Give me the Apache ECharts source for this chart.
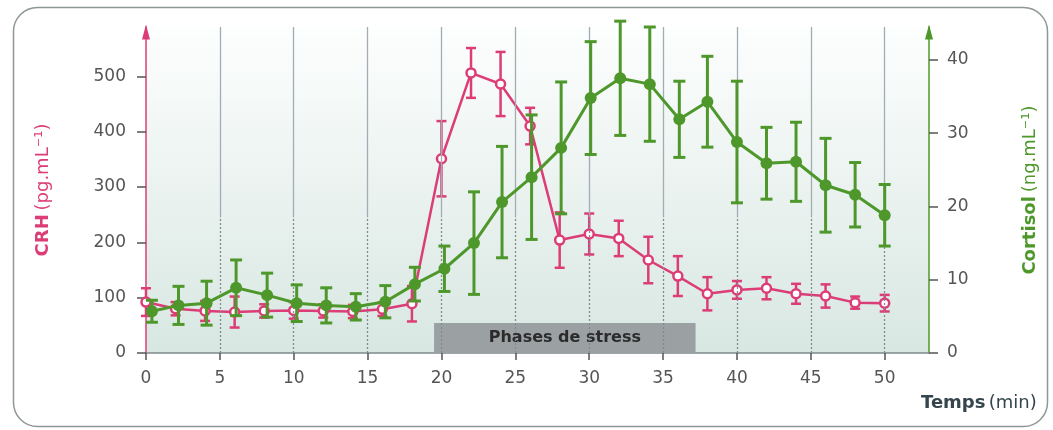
<!DOCTYPE html>
<html><head><meta charset="utf-8">
<script src="https://cdn.jsdelivr.net/npm/echarts@6/dist/echarts.min.js"></script>
<style>html,body{margin:0;padding:0;background:#fff;} #c{width:1053px;height:430px;}</style>
</head><body><div id="c"></div>
<script>
// ---- data ----
const crhTimes = [0, 2, 4, 6, 8, 10, 12, 14, 16, 18, 20, 22, 24, 26, 28, 30, 32, 34, 36, 38, 40, 42, 44, 46, 48, 50];
const crhValues = [92, 80, 76, 74, 76, 77, 76, 75, 79, 89, 351, 506, 486, 410, 204, 215, 207, 168, 139, 107, 114, 117, 107, 103, 91, 90];
const crhErrors = [25, 12, 18, 28, 12, 15, 12, 12, 12, 32, 68, 45, 58, 33, 50, 37, 32, 42, 36, 30, 16, 20, 18, 21, 11, 15];
const cortisolTimes = [0.4, 2.2, 4.1, 6.1, 8.2, 10.2, 12.2, 14.2, 16.2, 18.2, 20.2, 22.2, 24.1, 26.1, 28.1, 30.1, 32.1, 34.1, 36.1, 38, 40, 42, 44, 46, 48, 50];
const cortisolValues = [5.7, 6.5, 6.8, 8.9, 7.9, 6.8, 6.5, 6.3, 7.0, 9.4, 11.5, 15.0, 20.6, 24.0, 28.0, 34.8, 37.5, 36.7, 31.9, 34.3, 28.8, 25.9, 26.1, 22.9, 21.6, 18.8];
const cortisolErrors = [1.5, 2.6, 3.0, 3.8, 3.0, 2.5, 2.4, 1.8, 2.2, 2.3, 3.1, 7.0, 7.6, 8.5, 9.0, 7.7, 7.8, 7.8, 5.2, 6.2, 8.3, 4.9, 5.4, 6.4, 4.4, 4.2];
const timeTicks = [0, 5, 10, 15, 20, 25, 30, 35, 40, 45, 50];
const crhTicks = [0, 100, 200, 300, 400, 500];
const cortisolTicks = [0, 10, 20, 30, 40];
const stressPhase = [19.5, 37.2];
const stressLabel = 'Phases de stress';

// ---- styles ----
const PINK = '#dc3d76', GREEN = '#4e982b', FONT = 'DejaVu Sans', LABEL = '#555';
const CRH_MAX = 589, GRID_SPLIT = 245;

function errSeries(xs, ys, errs, yAxisIndex, color, capHalf, width, z) {
  return {
    type: 'custom', yAxisIndex, clip: false, z, silent: true,
    data: xs.map((x, i) => [x, ys[i] - errs[i], ys[i] + errs[i]]),
    encode: { x: 0, y: [1, 2] },
    renderItem(params, api) {
      const x = api.value(0);
      const p1 = api.coord([x, api.value(1)]), p2 = api.coord([x, api.value(2)]);
      const st = { stroke: color, lineWidth: width };
      return { type: 'group', children: [
        { type: 'line', shape: { x1: p1[0], y1: p1[1], x2: p2[0], y2: p2[1] }, style: st },
        { type: 'line', shape: { x1: p1[0] - capHalf, y1: p1[1], x2: p1[0] + capHalf, y2: p1[1] }, style: st },
        { type: 'line', shape: { x1: p2[0] - capHalf, y1: p2[1], x2: p2[0] + capHalf, y2: p2[1] }, style: st }
      ]};
    }
  };
}

// vertical grid lines: solid in upper part, dotted in lower part
const gridLines = [];
timeTicks.filter(t => t > 0).forEach(t => {
  gridLines.push([{ coord: [t, 0], lineStyle: { type: [2, 2], color: '#7f8a92', width: 1.3 } }, { coord: [t, GRID_SPLIT] }]);
  gridLines.push([{ coord: [t, GRID_SPLIT], lineStyle: { type: 'solid', color: '#a3acb3', width: 1.3 } }, { coord: [t, CRH_MAX] }]);
});

const chart = echarts.init(document.getElementById('c'));
chart.setOption({
  animation: false,
  backgroundColor: '#fff',
  textStyle: { fontFamily: FONT },
  graphic: [
    { type: 'rect', z: -10, shape: { x: 13.5, y: 7.5, width: 1034, height: 419, r: 24 },
      style: { fill: 'none', stroke: '#8f9797', lineWidth: 1.5 } },
    { type: 'text', left: 921, top: 394,
      style: { text: '{b|Temps} {n|(min)}', rich: {
        b: { fontFamily: FONT, fontSize: 18, fontWeight: 'bold', fill: '#34454d' },
        n: { fontFamily: FONT, fontSize: 18, fill: '#34454d' } } } }
  ],
  grid: {
    left: 146, right: 124, top: 27, bottom: 77, show: true, borderWidth: 0,
    backgroundColor: { type: 'linear', x: 0, y: 0, x2: 0, y2: 1,
      colorStops: [{ offset: 0, color: '#fdfefe' }, { offset: 1, color: '#d8e7e2' }] }
  },
  xAxis: {
    type: 'value', min: 0, max: 53, interval: 5,
    axisLine: { show: true, onZero: false, lineStyle: { color: '#7d8b8b', width: 1.5 } },
    axisTick: { show: true, customValues: timeTicks, length: 7, lineStyle: { color: '#555', width: 1.5 } },
    axisLabel: { customValues: timeTicks, margin: 17, color: LABEL, fontSize: 17, fontFamily: FONT },
    splitLine: { show: false }
  },
  yAxis: [
    {
      type: 'value', min: 0, max: CRH_MAX, position: 'left',
      name: '{b|CRH} {n|(pg.mL⁻¹)}', nameLocation: 'middle', nameRotate: 90, nameGap: 94,
      nameTextStyle: { rich: {
        b: { fontFamily: FONT, fontSize: 18, fontWeight: 'bold', color: PINK },
        n: { fontFamily: FONT, fontSize: 18, color: PINK } } },
      axisLine: { show: true, onZero: false, lineStyle: { color: PINK, width: 1.5 },
        symbol: ['none', 'triangle'], symbolSize: [8, 15], symbolOffset: [0, -5] },
      axisTick: { show: true, customValues: crhTicks, length: 9, lineStyle: { color: '#555', width: 1.5 } },
      axisLabel: { customValues: crhTicks, margin: 20, color: LABEL, fontSize: 17, fontFamily: FONT },
      splitLine: { show: false }
    },
    {
      type: 'value', min: 0, max: 44.5, position: 'right',
      name: '{b|Cortisol} {n|(ng.mL⁻¹)}', nameLocation: 'middle', nameRotate: 90, nameGap: 92,
      nameTextStyle: { rich: {
        b: { fontFamily: FONT, fontSize: 18, fontWeight: 'bold', color: GREEN },
        n: { fontFamily: FONT, fontSize: 18, color: GREEN } } },
      axisLine: { show: true, onZero: false, lineStyle: { color: GREEN, width: 1.5 },
        symbol: ['none', 'triangle'], symbolSize: [8, 15], symbolOffset: [0, -5] },
      axisTick: { show: true, customValues: cortisolTicks, length: 9, lineStyle: { color: '#555', width: 1.5 } },
      axisLabel: { customValues: cortisolTicks, margin: 18, color: LABEL, fontSize: 17, fontFamily: FONT },
      splitLine: { show: false }
    }
  ],
  series: [
    {
      type: 'line', yAxisIndex: 0, z: 1, silent: true, symbol: 'none',
      data: crhTimes.map((t, i) => [t, crhValues[i]]),
      lineStyle: { opacity: 0 },
      markLine: { silent: true, symbol: ['none', 'none'], label: { show: false }, data: gridLines }
    },
    errSeries(crhTimes, crhValues, crhErrors, 0, PINK, 5, 2.5, 3),
    {
      type: 'line', yAxisIndex: 0, z: 4, silent: true,
      data: crhTimes.map((t, i) => [t, crhValues[i]]),
      lineStyle: { color: PINK, width: 2.5 },
      symbol: 'circle', symbolSize: 9,
      itemStyle: { color: '#fff', borderColor: PINK, borderWidth: 2.5 },
      markArea: {
        silent: true,
        itemStyle: { color: '#9ba1a3' },
        label: { show: true, position: 'inside', color: '#2b2b2b', fontSize: 16, fontWeight: 600, fontFamily: FONT },
        data: [[{ name: stressLabel, xAxis: stressPhase[0], yAxis: 0 }, { xAxis: stressPhase[1], yAxis: 54 }]]
      }
    },
    errSeries(cortisolTimes, cortisolValues, cortisolErrors, 1, GREEN, 6, 3, 5),
    {
      type: 'line', yAxisIndex: 1, z: 6, silent: true,
      data: cortisolTimes.map((t, i) => [t, cortisolValues[i]]),
      lineStyle: { color: GREEN, width: 3 },
      symbol: 'circle', symbolSize: 12,
      itemStyle: { color: GREEN, borderColor: GREEN, borderWidth: 0 }
    }
  ]
});
</script>
</body></html>
